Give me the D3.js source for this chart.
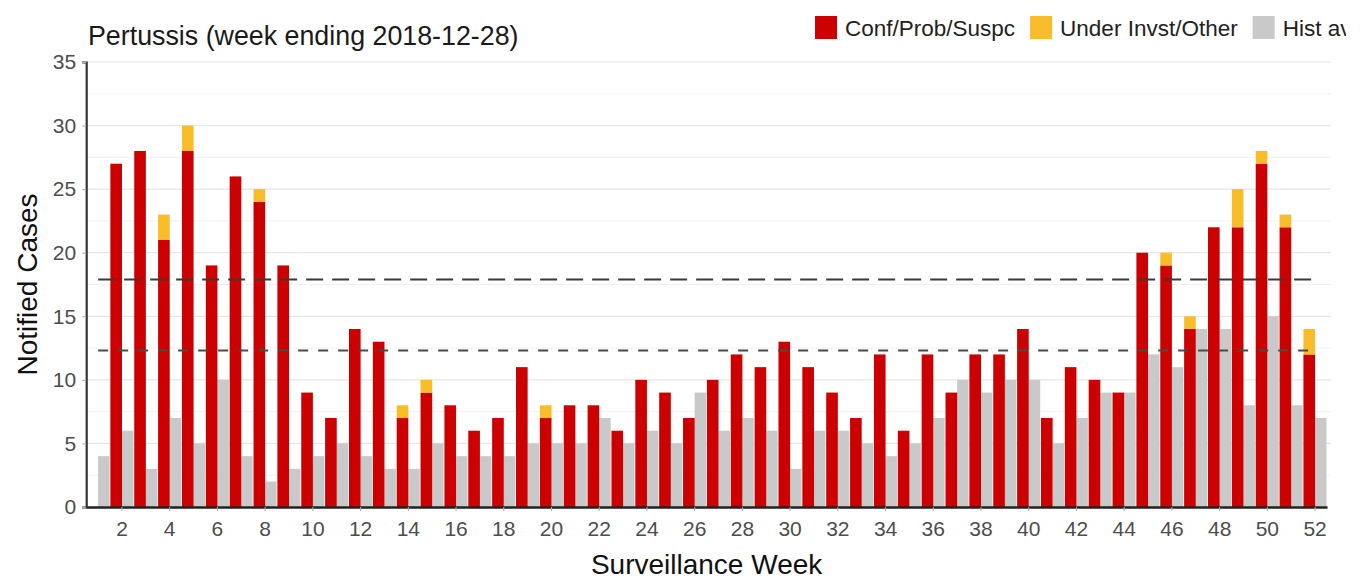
<!DOCTYPE html>
<html>
<head>
<meta charset="utf-8">
<script src="https://cdn.jsdelivr.net/npm/d3@7"></script>
<style>
  body { margin: 0; background: #fff; }
  svg { display: block; font-family: "Liberation Sans", Arial, sans-serif; }
</style>
</head>
<body>
<div id="chart"></div>
<script>
// weekly counts
var weeks = d3.range(1, 53);
var confirmed = [0, 27, 28, 21, 28, 19, 26, 24, 19, 9, 7, 14, 13, 7, 9, 8, 6, 7, 11, 7, 8, 8, 6, 10, 9, 7,
                 10, 12, 11, 13, 11, 9, 7, 12, 6, 12, 9, 12, 12, 14, 7, 11, 10, 9, 20, 19, 14, 22, 22, 27, 22, 12];
var underInvst = [0, 0, 0, 2, 2, 0, 0, 1, 0, 0, 0, 0, 0, 1, 1, 0, 0, 0, 0, 1, 0, 0, 0, 0, 0, 0,
                  0, 0, 0, 0, 0, 0, 0, 0, 0, 0, 0, 0, 0, 0, 0, 0, 0, 0, 0, 1, 1, 0, 3, 1, 1, 2];
var histAvg = [4, 6, 3, 7, 5, 10, 4, 2, 3, 4, 5, 4, 3, 3, 5, 4, 4, 4, 5, 5, 5, 7, 5, 6, 5, 9,
               6, 7, 6, 3, 6, 6, 5, 4, 5, 7, 10, 9, 10, 10, 5, 7, 9, 9, 12, 11, 14, 14, 8, 15, 8, 7];
var thresholdUpper = 17.9;
var thresholdLower = 12.3;
var yTicks = [0, 5, 10, 15, 20, 25, 30, 35];
var xTicks = d3.range(2, 53, 2);
var legendLabels = ["Conf/Prob/Suspc", "Under Invst/Other", "Hist avg"];

var colRed = "#cc0000", colYellow = "#f8bd29", colGrey = "#c9c9c9";

var width = 1364, height = 579;
var margin = {left: 86.2, right: 37, top: 62, bottom: 72};

var svg = d3.select("#chart").append("svg")
    .attr("width", width).attr("height", height);

var x = d3.scaleBand()
    .domain(weeks)
    .range([margin.left, width - margin.right])
    .padding(0);

var y = d3.scaleLinear()
    .domain([0, 35])
    .range([height - margin.bottom, margin.top]);

var bw = x.bandwidth();

// gridlines (major + minor)
var minor = d3.range(2.5, 35, 5);
svg.append("g").selectAll("line.minor")
    .data(minor).enter().append("line")
    .attr("x1", margin.left).attr("x2", 1331)
    .attr("y1", function(d) { return y(d); }).attr("y2", function(d) { return y(d); })
    .attr("stroke", "#f2f2f2").attr("stroke-width", 1);
svg.append("g").selectAll("line.major")
    .data(yTicks.slice(1)).enter().append("line")
    .attr("x1", margin.left).attr("x2", 1331)
    .attr("y1", function(d) { return y(d); }).attr("y2", function(d) { return y(d); })
    .attr("stroke", "#e6e6e6").attr("stroke-width", 1.2);

// bars
var bars = svg.append("g");
bars.selectAll("rect.hist")
    .data(weeks).enter().append("rect")
    .attr("x", function(d) { return x(d) + bw / 2; })
    .attr("width", bw / 2 - 0.5)
    .attr("y", function(d, i) { return y(histAvg[i]); })
    .attr("height", function(d, i) { return y(0) - y(histAvg[i]); })
    .attr("fill", colGrey);

bars.selectAll("rect.conf")
    .data(weeks).enter().append("rect")
    .attr("x", function(d) { return x(d) + 0.3; })
    .attr("width", bw / 2 - 0.3)
    .attr("y", function(d, i) { return y(confirmed[i]); })
    .attr("height", function(d, i) { return y(0) - y(confirmed[i]); })
    .attr("fill", colRed);

bars.selectAll("rect.other")
    .data(weeks).enter().append("rect")
    .attr("x", function(d) { return x(d) + 0.3; })
    .attr("width", bw / 2 - 0.3)
    .attr("y", function(d, i) { return y(confirmed[i] + underInvst[i]); })
    .attr("height", function(d, i) { return y(confirmed[i]) - y(confirmed[i] + underInvst[i]); })
    .attr("fill", colYellow);

// threshold lines
var xc = function(w) { return x(w) + bw / 2; };
svg.append("line")
    .attr("x1", xc(1)).attr("x2", xc(52))
    .attr("y1", y(thresholdUpper)).attr("y2", y(thresholdUpper))
    .attr("stroke", "#3a3a3a").attr("stroke-width", 2)
    .attr("stroke-dasharray", "17,9");
svg.append("line")
    .attr("x1", xc(1)).attr("x2", xc(52))
    .attr("y1", y(thresholdLower)).attr("y2", y(thresholdLower))
    .attr("stroke", "#4a4a4a").attr("stroke-width", 2)
    .attr("stroke-dasharray", "10,10");

// axes
var yAxis = svg.append("g")
    .attr("transform", "translate(" + margin.left + ",0)")
    .call(d3.axisLeft(y).tickValues(yTicks).tickSize(4).tickPadding(6));
yAxis.select(".domain").attr("stroke", "#333").attr("stroke-width", 2.2);
yAxis.selectAll(".tick line").attr("stroke", "#aaa");
yAxis.selectAll(".tick text")
    .attr("fill", "#4d4d4d").style("font-size", "21px")
    .style("font-family", "'Liberation Sans', Arial, sans-serif");

var xAxis = svg.append("g")
    .attr("transform", "translate(0," + y(0) + ")")
    .call(d3.axisBottom(x).tickValues(xTicks).tickSize(4).tickPadding(10).tickSizeOuter(0));
xAxis.select(".domain").attr("stroke", "#222").attr("stroke-width", 2.6);
xAxis.selectAll(".tick line").attr("stroke", "#aaa");
xAxis.selectAll(".tick text")
    .attr("fill", "#4d4d4d").style("font-size", "21px")
    .style("font-family", "'Liberation Sans', Arial, sans-serif");

// titles
svg.append("text")
    .attr("x", 88).attr("y", 45)
    .attr("fill", "#1a1a1a")
    .style("font-size", "26.8px")
    .text("Pertussis (week ending 2018-12-28)");

svg.append("text")
    .attr("x", (margin.left + width - margin.right) / 2).attr("y", 574)
    .attr("text-anchor", "middle")
    .attr("fill", "#111")
    .style("font-size", "28px")
    .text("Surveillance Week");

svg.append("text")
    .attr("transform", "translate(37," + ((y(0) + y(35)) / 2) + ") rotate(-90)")
    .attr("text-anchor", "middle")
    .attr("fill", "#111")
    .style("font-size", "28px")
    .text("Notified Cases");

// legend (cut off at the right edge like the source image)
svg.append("clipPath").attr("id", "legclip")
    .append("rect").attr("x", 0).attr("y", 0).attr("width", 1346).attr("height", 60);

var legend = svg.append("g").attr("clip-path", "url(#legclip)");
var legColors = [colRed, colYellow, colGrey];
var lx = 815;
legendLabels.forEach(function(lab, i) {
  legend.append("rect")
      .attr("x", lx).attr("y", 16).attr("width", 22).attr("height", 23)
      .attr("fill", legColors[i]);
  var t = legend.append("text")
      .attr("x", lx + 30).attr("y", 36)
      .attr("fill", "#222")
      .style("font-size", "22.5px")
      .text(lab);
  lx = lx + 30 + t.node().getComputedTextLength() + 15;
});
</script>
</body>
</html>
